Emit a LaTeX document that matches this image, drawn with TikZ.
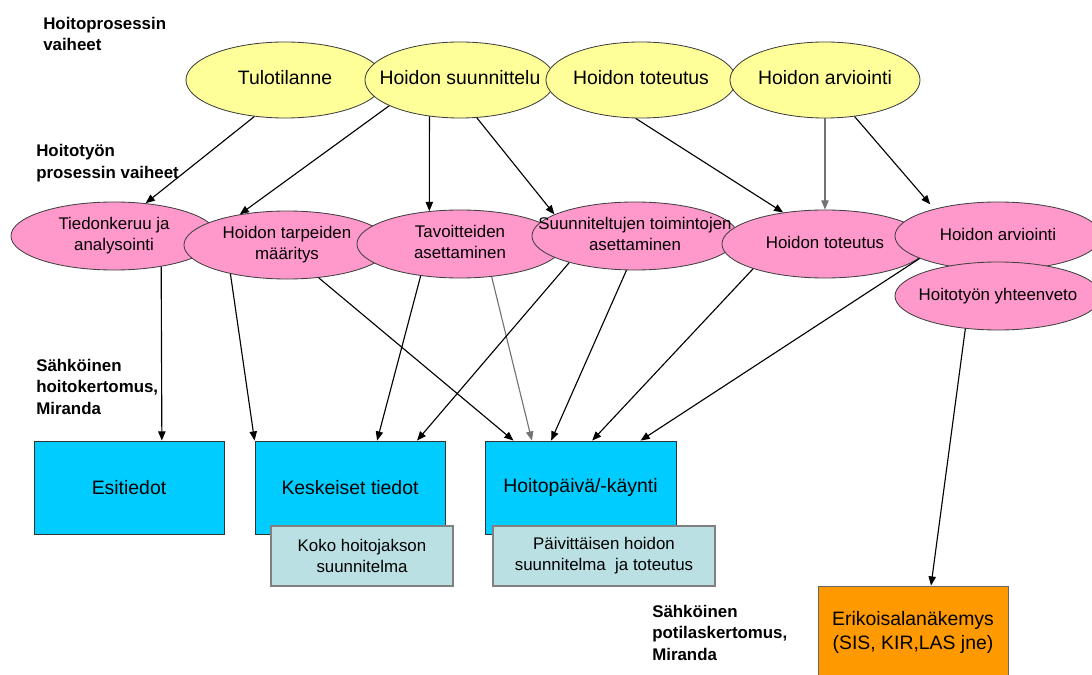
\documentclass[tikz,border=0pt]{standalone}
\usepackage{fontspec}
\setmainfont{Liberation Sans}
\usetikzlibrary{arrows.meta,shapes.geometric}

\definecolor{vaihe}{HTML}{FFFF99}
\definecolor{tyo}{HTML}{FF99CC}
\definecolor{kirjaus}{HTML}{00CCFF}
\definecolor{suunn}{HTML}{BBE0E3}
\definecolor{erikois}{HTML}{FF9900}

% text kept out of the ellipse size
\newcommand{\keski}[1]{\makebox[0pt]{\begin{tabular}{@{}c@{}}#1\end{tabular}}}

\begin{document}
\begin{tikzpicture}[x=0.025cm,y=-0.025cm,
    vaiheell/.style={shape=ellipse,draw=black!75,fill=vaihe,inner sep=0pt,line width=0.6pt,
        minimum width=4.75cm,minimum height=1.9cm,font=\fontsize{13.8}{16}\selectfont},
    tyoell/.style={shape=ellipse,draw=black!75,fill=tyo,inner sep=0pt,line width=0.6pt,
        minimum width=5.15cm,minimum height=1.7cm,font=\fontsize{12}{15}\selectfont},
    kirjausbox/.style={shape=rectangle,draw=black!80,fill=kirjaus,line width=0.6pt,
        minimum width=4.75cm,minimum height=2.325cm,font=\fontsize{13.8}{16}\selectfont},
    suunnbox/.style={shape=rectangle,draw=black!50,fill=suunn,line width=0.8pt,align=center,
        minimum height=1.5cm,font=\fontsize{12}{15}\selectfont},
    otsikko/.style={anchor=west,align=left,inner sep=0pt,
        font=\bfseries\fontsize{12}{15.3}\selectfont},
    nuoli/.style={-{Triangle[length=6.5pt,width=5.2pt]},line width=0.8pt},
    harmaa/.style={nuoli,color=black!55}]

    \useasboundingbox (0,0) rectangle (1092,675);

    % hoitoprosessin vaiheet
    \node[vaiheell,minimum width=4.95cm] (tulo) at (285,80) {\keski{Tulotilanne}};
    \node[vaiheell] (suun) at (460,80) {\keski{Hoidon suunnittelu}};
    \node[vaiheell] (tote) at (641,80) {\keski{Hoidon toteutus}};
    \node[vaiheell] (arvi) at (825,80) {\keski{Hoidon arviointi}};

    % hoitotyon prosessin vaiheet
    \node[tyoell] (tied) at (114,236) {\keski{Tiedonkeruu ja\\analysointi}};
    \node[tyoell] (tarp) at (287,245) {\keski{Hoidon tarpeiden\\määritys}};
    \node[tyoell] (tavo) at (460,244) {\keski{Tavoitteiden\\asettaminen}};
    \node[tyoell] (suto) at (635,236) {\keski{Suunniteltujen toimintojen\\asettaminen}};
    \node[tyoell] (ptot) at (825,244) {\keski{Hoidon toteutus}};
    \node[tyoell] (parv) at (998,236) {\keski{Hoidon arviointi}};
    \node[tyoell] (yht) at (998,296) {\keski{Hoitotyön yhteenveto}};

    % kirjaukset
    \node[kirjausbox] (esit) at (129,487.5) {Esitiedot};
    \node[kirjausbox] (kesk) at (350,487.5) {Keskeiset tiedot};
    \node[kirjausbox,minimum width=4.775cm] (hpk) at (580.5,487.5) {Hoitopäivä/-käynti};
    \node[suunnbox,minimum width=4.55cm] (koko) at (362,556) {Koko hoitojakson\\suunnitelma};
    \node[suunnbox,minimum width=5.55cm] (paiv) at (604,556) {Päivittäisen hoidon\\suunnitelma\ \ ja toteutus};
    \node[kirjausbox,fill=erikois,draw=black!60,align=center,
        font=\fontsize{13.8}{17}\selectfont] (erik) at (913,632.5) {Erikoisalanäkemys\\(SIS, KIR,LAS jne)};

    \node[otsikko] (lvaihe) at (43,34) {Hoitoprosessin\\vaiheet};
    \node[otsikko] (ltyo) at (36,163) {Hoitotyön\\prosessin vaiheet};
    \node[otsikko] (lhoito) at (36,386.5) {Sähköinen\\hoitokertomus,\\Miranda};
    \node[otsikko] (lpotilas) at (652,632.5) {Sähköinen\\potilaskertomus,\\Miranda};

    \path [nuoli] (tulo.230) edge (tied.46);
    \path [nuoli] (suun.200) edge (tarp.147);
    \path [nuoli] (suun.230) edge (tavo.133);
    \path [nuoli] (suun.294) edge (suto.165);
    \path [nuoli] (tote.262) edge (ptot.143);
    \path [harmaa] (arvi.270) edge (ptot.90);
    \path [nuoli,shorten >=0.15cm] (arvi.309) edge (parv.157);

    \path [nuoli] (tied.327) edge (esit.55.5);
    \path [nuoli] (tarp.207) edge (kesk.north west);
    \path [nuoli] (tarp.314.5) edge (hpk.145.8);
    \path [nuoli] (tavo.219.7) edge (kesk.60.8);
    \path [harmaa] (tavo.314.7) edge (hpk.136.8);
    \path [nuoli] (suto.202.6) edge (kesk.35.2);
    \path [nuoli] (suto.256.8) edge (hpk.122.4);
    \path [nuoli] (ptot.199.4) edge (hpk.76.1);
    \path [nuoli] (parv.196.6) edge (hpk.38.5);
    \path [nuoli] (yht.225.5) edge (erik.69.9);
\end{tikzpicture}
\end{document}
